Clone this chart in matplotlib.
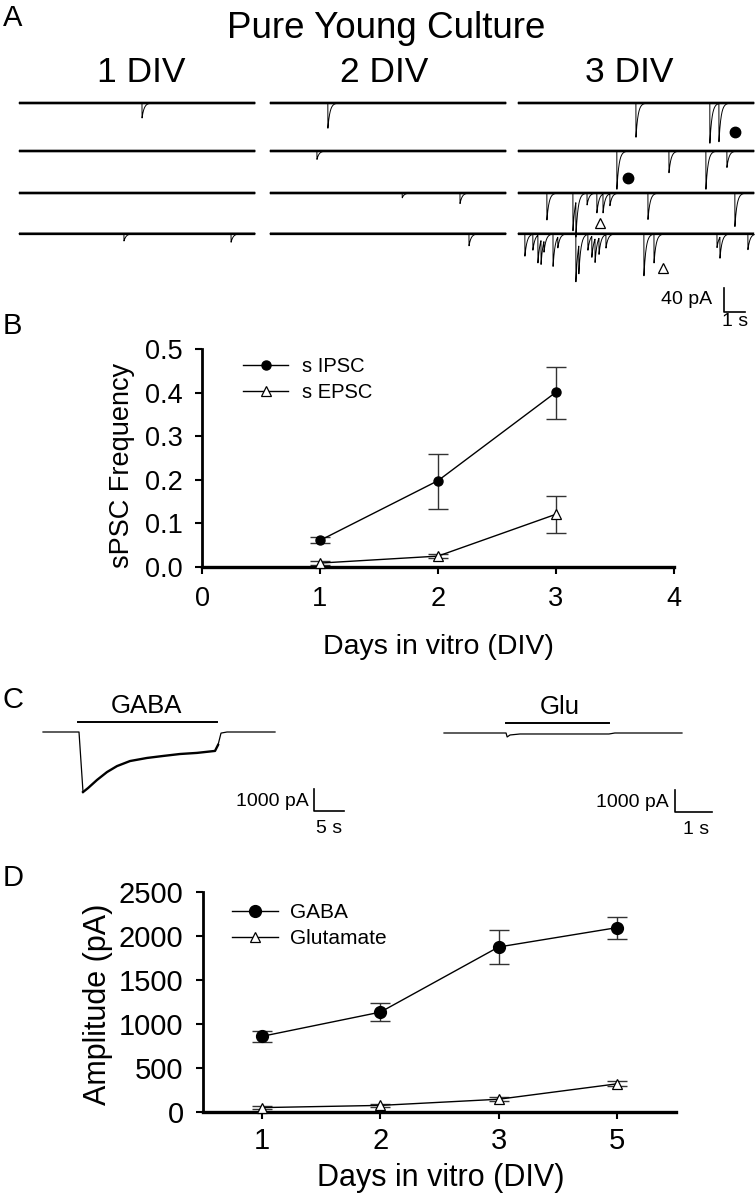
import numpy as np
import matplotlib
matplotlib.use("Agg")
import matplotlib.pyplot as plt
from matplotlib.ticker import FormatStrFormatter

plt.rcParams['font.family'] = ['Liberation Sans', 'DejaVu Sans']

# ---------------- data ----------------
# Panel A: spontaneous events (time in s within a 11.25 s sweep, amplitude in pA)
sweep_len = 11.25
div_labels = ['1 DIV', '2 DIV', '3 DIV']
events_1div = [[(5.86, 25)], [], [], [(5.0, 12), (10.1, 14)]]
events_2div = [[(2.76, 42)], [(2.24, 14)], [(6.3, 8), (9.05, 18)], [(9.48, 20)]]
events_3div = [
    [(5.62, 57), (9.14, 67), (9.57, 65)],
    [(4.71, 65), (7.19, 37), (8.95, 65), (9.95, 28)],
    [(1.38, 45), (2.62, 63), (2.76, 58), (3.29, 20), (3.76, 33), (4.05, 32),
     (4.38, 20), (6.19, 45), (10.33, 57)],
    [(0.33, 38), (0.71, 27), (0.95, 47), (1.10, 40), (1.24, 18), (1.67, 55),
     (1.90, 18), (2.76, 80), (2.90, 47), (3.33, 27), (3.52, 35), (3.67, 40),
     (3.86, 27), (4.19, 23), (6.00, 70), (6.48, 48), (9.48, 23), (9.62, 35),
     (10.95, 27)],
]
ipsc_marks = [(34.1, -48), (29.0, -125)]      # (s, pA) in panel-A frame
epsc_marks = [(27.67, -200), (30.67, -275)]

# Panel B: sPSC frequency
B_days = [1, 2, 3]
ipsc_mean = [0.061, 0.198, 0.401]
ipsc_lo = [0.007, 0.064, 0.061]
ipsc_hi = [0.007, 0.062, 0.058]
epsc_mean = [0.009, 0.025, 0.121]
epsc_lo = [0.005, 0.005, 0.042]
epsc_hi = [0.005, 0.005, 0.041]

# Panel C: whole-cell responses (s, pA)
gaba_t = [0, 6.0, 6.67, 7.5, 9.0, 10.67, 12.33, 14.5, 17.33, 20.0, 22.83, 25.67,
          28.67, 29.17, 29.67, 30.67, 38.67]
gaba_i = [0, 0, -2730, -2550, -2180, -1820, -1550, -1320, -1180, -1090, -1000,
          -950, -860, -590, -50, 0, 0]
gaba_app = (5.83, 29.0)
glu_t = [0, 1.70, 1.73, 1.81, 2.08, 4.52, 4.68, 6.52]
glu_i = [0, 0, -180, -90, -45, -45, 0, 0]
glu_app = (1.70, 4.52)

# Panel D: amplitudes
D_labels = ['1', '2', '3', '5']
gaba_amp = [860, 1135, 1875, 2095]
gaba_err = [65, 102, 193, 125]
glut_amp = [50, 75, 145, 320]
glut_err = [15, 15, 20, 28]

# ---------------- layout ----------------
W, H = 755, 1199
fig = plt.figure(figsize=(W / 100, H / 100), dpi=100)


def ftext(x, y, s, size, ha='center', va='center', **kw):
    fig.text(x / W, 1 - y / H, s, fontsize=size, ha=ha, va=va, **kw)


def px_axes(box, origin, scale):
    x0, y0, x1, y1 = box
    ox, oy = origin
    sx, sy = scale
    ax = fig.add_axes([x0 / W, 1 - y1 / H, (x1 - x0) / W, (y1 - y0) / H])
    ax.set_xlim((x0 - ox) / sx, (x1 - ox) / sx)
    ax.set_ylim((oy - y1) / sy, (oy - y0) / sy)
    ax.axis('off')
    return ax


# ---------------- Panel A ----------------
ftext(3, 18, 'A', 21, ha='left')
ftext(386, 29, 'Pure Young Culture', 26.5)
for xc, lab in zip([141, 384, 629], div_labels):
    ftext(xc, 73, lab, 25.5)

axA = px_axes((0, 80, 755, 345), (19, 103), (21.0, 0.6))
col_start = [0.0, 11.95, 23.76]
row_off = [0, -80, -150, -218]
tgrid = np.arange(0, sweep_len, 0.004)
tau = 0.1
for c, evs in enumerate([events_1div, events_2div, events_3div]):
    for r, row in enumerate(evs):
        y = np.zeros_like(tgrid)
        for (t0, amp) in row:
            m = tgrid >= t0
            y[m] -= amp * np.exp(-(tgrid[m] - t0) / tau)
        base = row_off[r]
        axA.plot(col_start[c] + tgrid, base + np.zeros_like(tgrid), color='black',
                 lw=1.9, solid_capstyle='butt')
        axA.plot(col_start[c] + tgrid, base + y, color='black', lw=0.7)
for (tx, yy) in ipsc_marks:
    axA.plot(tx, yy, 'o', color='black', ms=7.5)
for (tx, yy) in epsc_marks:
    axA.plot(tx, yy, '^', mfc='white', mec='black', ms=7, mew=0.9)
# scale bar 40 pA / 1 s
sbx, sby = 33.57, -348
axA.plot([sbx, sbx, sbx + 1], [sby + 40, sby, sby], color='black', lw=1.2)
axA.text(sbx - 0.55, sby + 20, '40 pA', fontsize=14, ha='right', va='center')
axA.text(sbx + 0.55, sby - 17, '1 s', fontsize=14, ha='center', va='center')

# ---------------- Panel B ----------------
ftext(3, 326, 'B', 21, ha='left')
axB = fig.add_axes([202 / W, 1 - 567 / H, 472 / W, 218 / H])
axB.errorbar(B_days, ipsc_mean, yerr=[ipsc_lo, ipsc_hi], fmt='none',
             ecolor='#333333', elinewidth=1, capsize=7.5, capthick=1)
axB.errorbar(B_days, epsc_mean, yerr=[epsc_lo, epsc_hi], fmt='none',
             ecolor='#333333', elinewidth=1, capsize=7.5, capthick=1)
axB.plot(B_days, ipsc_mean, '-o', color='black', lw=1, ms=6.5, label='s IPSC',
         clip_on=False, zorder=4)
axB.plot(B_days, epsc_mean, '-^', color='black', lw=1, ms=6.5, mfc='white',
         mew=0.9, label='s EPSC', clip_on=False, zorder=4)
axB.set_xlim(0, 4)
axB.set_ylim(0, 0.5)
axB.set_xticks([0, 1, 2, 3, 4])
axB.set_yticks([0, 0.1, 0.2, 0.3, 0.4, 0.5])
axB.yaxis.set_major_formatter(FormatStrFormatter('%.1f'))
for s in ['top', 'right']:
    axB.spines[s].set_visible(False)
axB.spines['left'].set_linewidth(2)
axB.spines['bottom'].set_linewidth(2.4)
axB.tick_params(axis='both', direction='out', length=5, width=1.5, labelsize=19.5)
axB.tick_params(axis='x', pad=9)
axB.tick_params(axis='y', pad=9)
axB.legend(loc='upper left', bbox_to_anchor=(0.087, 0.965), frameon=False,
           fontsize=14.5, handlelength=2.25, handletextpad=0.7, labelspacing=0.35,
           borderpad=0, borderaxespad=0)
ftext(122, 465, 'sPSC Frequency', 19.5, rotation=90)
ftext(438, 647, 'Days in vitro (DIV)', 20.5)

# ---------------- Panel C ----------------
ftext(3, 700, 'C', 21, ha='left')
axC1 = px_axes((25, 680, 360, 845), (43, 732), (6.0, 0.022))
axC1.plot(gaba_t[:3], gaba_i[:3], color='black', lw=0.9)
axC1.plot(gaba_t[2:14], gaba_i[2:14], color='black', lw=1.7)
axC1.plot(gaba_t[13:], gaba_i[13:], color='black', lw=0.9)
axC1.plot(gaba_app, [455, 455], color='black', lw=1.4)
axC1.text(np.mean(gaba_app) - 0.2, 1180, 'GABA', fontsize=18.5, ha='center', va='center')
cx, cy = 45.17, -3590
axC1.plot([cx, cx, cx + 5], [cy + 1000, cy, cy], color='black', lw=1.2)
axC1.text(cx - 0.85, cy + 450, '1000 pA', fontsize=14, ha='right', va='center')
axC1.text(cx + 2.5, cy - 780, '5 s', fontsize=14, ha='center', va='center')

axC2 = px_axes((430, 680, 755, 845), (444, 733), (36.5, 0.022))
axC2.plot(glu_t, glu_i, color='black', lw=0.9)
axC2.plot(glu_app, [455, 455], color='black', lw=1.4)
axC2.text(np.mean(glu_app) + 0.05, 1180, 'Glu', fontsize=18.5, ha='center', va='center')
gx, gy = 6.33, -3590
axC2.plot([gx, gx, gx + 1], [gy + 1000, gy, gy], color='black', lw=1.2)
axC2.text(gx - 0.16, gy + 450, '1000 pA', fontsize=14, ha='right', va='center')
axC2.text(gx + 0.58, gy - 780, '1 s', fontsize=14, ha='center', va='center')

# ---------------- Panel D ----------------
ftext(3, 878, 'D', 21, ha='left')
axD = fig.add_axes([203 / W, 1 - 1112 / H, 473 / W, 220 / H])
xpos = np.arange(1, len(D_labels) + 1)
axD.errorbar(xpos, gaba_amp, yerr=gaba_err, fmt='none', ecolor='#333333',
             elinewidth=1, capsize=7, capthick=1)
axD.errorbar(xpos, glut_amp, yerr=glut_err, fmt='none', ecolor='#333333',
             elinewidth=1, capsize=7, capthick=1)
axD.plot(xpos, gaba_amp, '-o', color='black', lw=1, ms=8.5, label='GABA',
         clip_on=False, zorder=4)
axD.plot(xpos, glut_amp, '-^', color='black', lw=1, ms=7, mfc='white', mew=0.9,
         label='Glutamate', clip_on=False, zorder=4)
axD.set_xlim(0.5, 4.5)
axD.set_ylim(0, 2500)
axD.set_xticks(xpos)
axD.set_xticklabels(D_labels)
axD.set_yticks([0, 500, 1000, 1500, 2000, 2500])
for s in ['top', 'right']:
    axD.spines[s].set_visible(False)
axD.spines['left'].set_linewidth(2)
axD.spines['bottom'].set_linewidth(2.4)
axD.tick_params(axis='both', direction='out', length=5, width=1.5, labelsize=21)
axD.tick_params(axis='x', pad=6)
axD.tick_params(axis='y', pad=9)
axD.legend(loc='upper left', bbox_to_anchor=(0.061, 0.95), frameon=False,
           fontsize=15, handlelength=2.2, handletextpad=0.58, labelspacing=0.35,
           borderpad=0, borderaxespad=0)
ftext(98, 1004, 'Amplitude (pA)', 22, rotation=90)
ftext(441, 1178, 'Days in vitro (DIV)', 22)

fig.savefig('out.png', dpi=100, facecolor='white')
